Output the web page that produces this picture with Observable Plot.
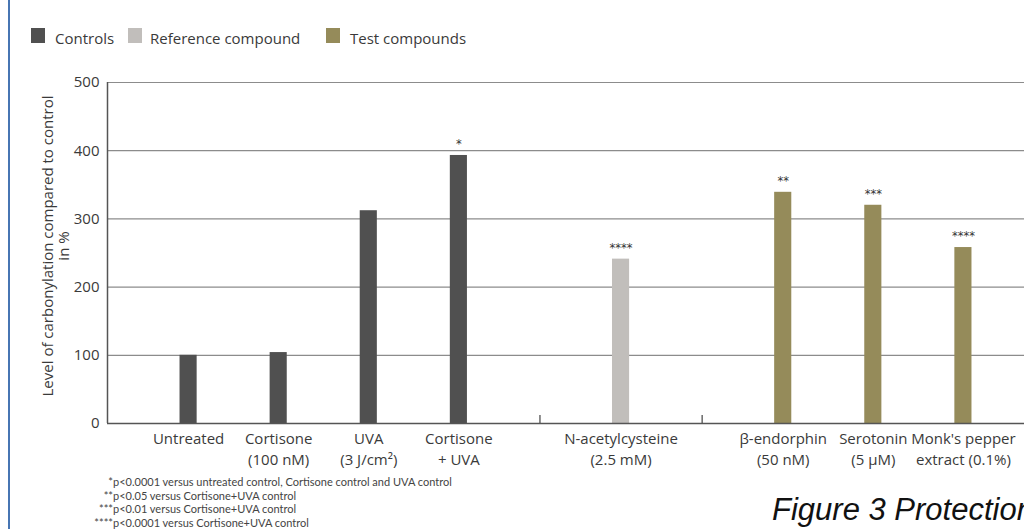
<!DOCTYPE html>
<html>
<head>
<meta charset="utf-8">
<script src="https://cdn.jsdelivr.net/npm/d3@7"></script>
<script src="https://cdn.jsdelivr.net/npm/@observablehq/plot@0.6"></script>
<style>
  body { margin: 0; background: #fff; }
  #wrap { position: relative; width: 1024px; height: 529px; overflow: hidden; font-family: "Open Sans", Lato, sans-serif; color: #3a3a3a; background: #fff; }
  #edge { position: absolute; left: 8px; top: 0; width: 2px; height: 529px; background: #4775b3; }
  .sw { position: absolute; top: 28px; width: 14px; height: 15px; }
  .lt { position: absolute; top: 31px; font-size: 15px; line-height: 15px; white-space: nowrap; }
  #plot { position: absolute; left: 0; top: 60px; width: 1044px; }
  #plot svg { max-width: none !important; }
  #notes { position: absolute; left: 0; top: 475px; font-family: Lato, sans-serif; font-size: 11px; line-height: 13.5px; color: #444; }
  .note { display: flex; white-space: nowrap; }
  .st { width: 113px; text-align: right; }
  #fig { position: absolute; left: 772px; top: 494px; font-family: "Liberation Sans", Arial, sans-serif; font-style: italic; font-size: 31px; line-height: 31px; color: #111; white-space: nowrap; }
</style>
</head>
<body>
<div id="wrap">
  <div id="edge"></div>
  <div id="legend"></div>
  <div id="plot"></div>
  <div id="notes"></div>
  <div id="fig">Figure 3 Protection</div>
</div>
<script>
// ---- data ----
const labelLine1 = ["Untreated", "Cortisone", "UVA", "Cortisone", "N-acetylcysteine", "β-endorphin", "Serotonin", "Monk's pepper"];
const labelLine2 = ["", "(100 nM)", "(3 J/cm²)", "+ UVA", "(2.5 mM)", "(50 nM)", "(5 µM)", "extract (0.1%)"];
const groups = ["Controls", "Controls", "Controls", "Controls", "Reference compound", "Test compounds", "Test compounds", "Test compounds"];
const values = [100, 104, 312, 393, 241, 339, 320, 258];
const stars = ["", "", "", "*", "****", "**", "***", "****"];
const groupNames = ["Controls", "Reference compound", "Test compounds"];
const groupColors = ["#505050", "#c1bebb", "#958b5a"];
const yTicks = [0, 100, 200, 300, 400, 500];
const yTitle = "Level of carbonylation compared to control\nin %";
const noteStars = ["*", "**", "***", "****"];
const noteTexts = [
  "p<0.0001 versus untreated control, Cortisone control and UVA control",
  "p<0.05 versus Cortisone+UVA control",
  "p<0.01 versus Cortisone+UVA control",
  "p<0.0001 versus Cortisone+UVA control"
];

// ---- layout of categories along x (group padding, unit spacing) ----
const pad = 0.9, half = 0.095;
const pos = [];
const bounds = [];
let cursor = 0;
for (const g of groupNames) {
  const idx = groups.map((d, i) => d === g ? i : -1).filter(i => i >= 0);
  idx.forEach((i, k) => { pos[i] = cursor + pad + k; });
  cursor += 2 * pad + (idx.length - 1);
  bounds.push(cursor);
}
const data = values.map((v, i) => ({
  x: pos[i], value: v, group: groups[i], star: stars[i],
  label: labelLine2[i] ? labelLine1[i] + "\n" + labelLine2[i] : labelLine1[i]
}));

// ---- legend ----
const legendPos = [[31, 55], [128, 150], [326, 350]];
const legend = document.getElementById("legend");
groupNames.forEach((g, i) => {
  const s = document.createElement("div");
  s.className = "sw"; s.style.left = legendPos[i][0] + "px"; s.style.background = groupColors[i];
  const t = document.createElement("div");
  t.className = "lt"; t.style.left = legendPos[i][1] + "px"; t.textContent = g;
  legend.append(s, t);
});

// ---- notes ----
const notes = document.getElementById("notes");
noteTexts.forEach((t, i) => {
  const row = document.createElement("div");
  row.className = "note";
  const a = document.createElement("span"); a.className = "st"; a.textContent = noteStars[i];
  const b = document.createElement("span"); b.textContent = t;
  row.append(a, b);
  notes.append(row);
});

// ---- chart ----
const chart = Plot.plot({
  width: 1044,
  height: 410,
  marginLeft: 107,
  marginRight: 0,
  marginTop: 22,
  marginBottom: 47,
  style: { fontFamily: "'Open Sans', Lato, sans-serif", fontSize: "15px", color: "#3a3a3a", background: "transparent", maxWidth: "none" },
  x: { domain: [0, cursor], axis: null },
  y: { domain: [0, 500] },
  color: { domain: groupNames, range: groupColors },
  marks: [
    Plot.gridY(yTicks.filter(d => d > 0), { stroke: "#8c8c8c", strokeOpacity: 1, strokeWidth: 1.2 }),
    Plot.axisY(yTicks, { tickSize: 0, tickPadding: 8, fontSize: 15, label: null, fill: "#3a3a3a" }),
    Plot.rectY(data, { x1: d => d.x - half, x2: d => d.x + half, y1: 0, y2: "value", fill: "group" }),
    Plot.ruleY([0], { stroke: "#555", strokeWidth: 1.5 }),
    Plot.ruleX([0], { y1: 0, y2: 500, stroke: "#555", strokeWidth: 1.5 }),
    Plot.ruleX(bounds, { x: d => d, y1: 0, y2: 0, insetBottom: 8, stroke: "#444", strokeWidth: 1.2 }),
    Plot.text(data, { x: "x", y: "value", text: "star", dy: -11, fontSize: 11.5, fontFamily: "DejaVu Sans", fill: "#333" }),
    Plot.text(data, { x: "x", y: 0, text: "label", lineAnchor: "top", dy: 5, lineHeight: 1.43, fontSize: 15, fill: "#3a3a3a" }),
    Plot.text([yTitle], { text: d => d, frameAnchor: "left", textAnchor: "middle", rotate: -90, dx: -52, dy: -7, lineHeight: 1.09, fontSize: 15, fill: "#3a3a3a" })
  ]
});
document.getElementById("plot").append(chart);
</script>
</body>
</html>
